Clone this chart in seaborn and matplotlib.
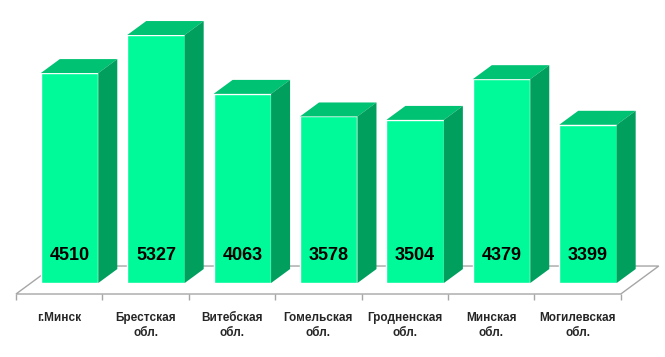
import numpy as np
import pandas as pd
import matplotlib
matplotlib.use('Agg')
from matplotlib import pyplot as plt
from matplotlib.patches import Polygon
import seaborn as sns

# data
regions = ['г.Минск', 'Брестская\nобл.', 'Витебская\nобл.', 'Гомельская\nобл.',
           'Гродненская\nобл.', 'Минская\nобл.', 'Могилевская\nобл.']
values = [4510, 5327, 4063, 3578, 3504, 4379, 3399]

front = '#00FA9A'
top_col = '#00C273'
side_col = '#009F5E'
grey = '#A6A6A6'

sns.set_style('white')
plt.rcParams['font.family'] = ['Liberation Sans', 'DejaVu Sans']

fig = plt.figure(figsize=(6.65, 3.57), dpi=100)
ax = fig.add_axes([0, 0, 1, 1])

df = pd.DataFrame({'region': regions, 'value': values})
sns.barplot(data=df, x='region', y='value', color=front, saturation=1,
            width=0.665, ax=ax, zorder=3)

# fake 3d: depth offsets in data units
dx, dy = 0.22, 300
shift = 0.12
floor_y = -236
floor_dx, floor_dy = 0.44, 601

floor = Polygon([(-0.5, floor_y), (6.5, floor_y),
                 (6.5 + floor_dx, floor_y + floor_dy), (-0.5 + floor_dx, floor_y + floor_dy)],
                closed=True, facecolor='white', edgecolor=grey, lw=1, zorder=1)
ax.add_patch(floor)
ax.vlines(np.arange(-0.5, 7), floor_y - 130, floor_y, color=grey, lw=1, zorder=1)

bars = list(ax.patches)[:len(values)]
for p, v in zip(bars, values):
    x0 = p.get_x() + shift
    p.set_x(x0)
    w, h = p.get_width(), p.get_height()
    top = Polygon([(x0, h), (x0 + w, h), (x0 + w + dx, h + dy), (x0 + dx, h + dy)],
                  closed=True, facecolor=top_col, edgecolor='none', zorder=3)
    side = Polygon([(x0 + w, 0), (x0 + w + dx, dy), (x0 + w + dx, h + dy), (x0 + w, h)],
                   closed=True, facecolor=side_col, edgecolor='none', zorder=3)
    ax.add_patch(top)
    ax.add_patch(side)
    ax.text(x0 + w / 2, 601, str(v), ha='center', va='center', fontsize=13,
            fontweight='bold', color='black', zorder=5)

for i, r in enumerate(regions):
    ax.text(i, -623, r, ha='center', va='top', fontsize=8.5, fontweight='bold',
            family=['Liberation Sans Narrow', 'Liberation Sans', 'DejaVu Sans'],
            linespacing=1.35)

ax.set_xlim(-0.685, 7.012)
ax.set_ylim(-1589, 6079)
ax.axis('off')

plt.savefig('out.png', dpi=100)
